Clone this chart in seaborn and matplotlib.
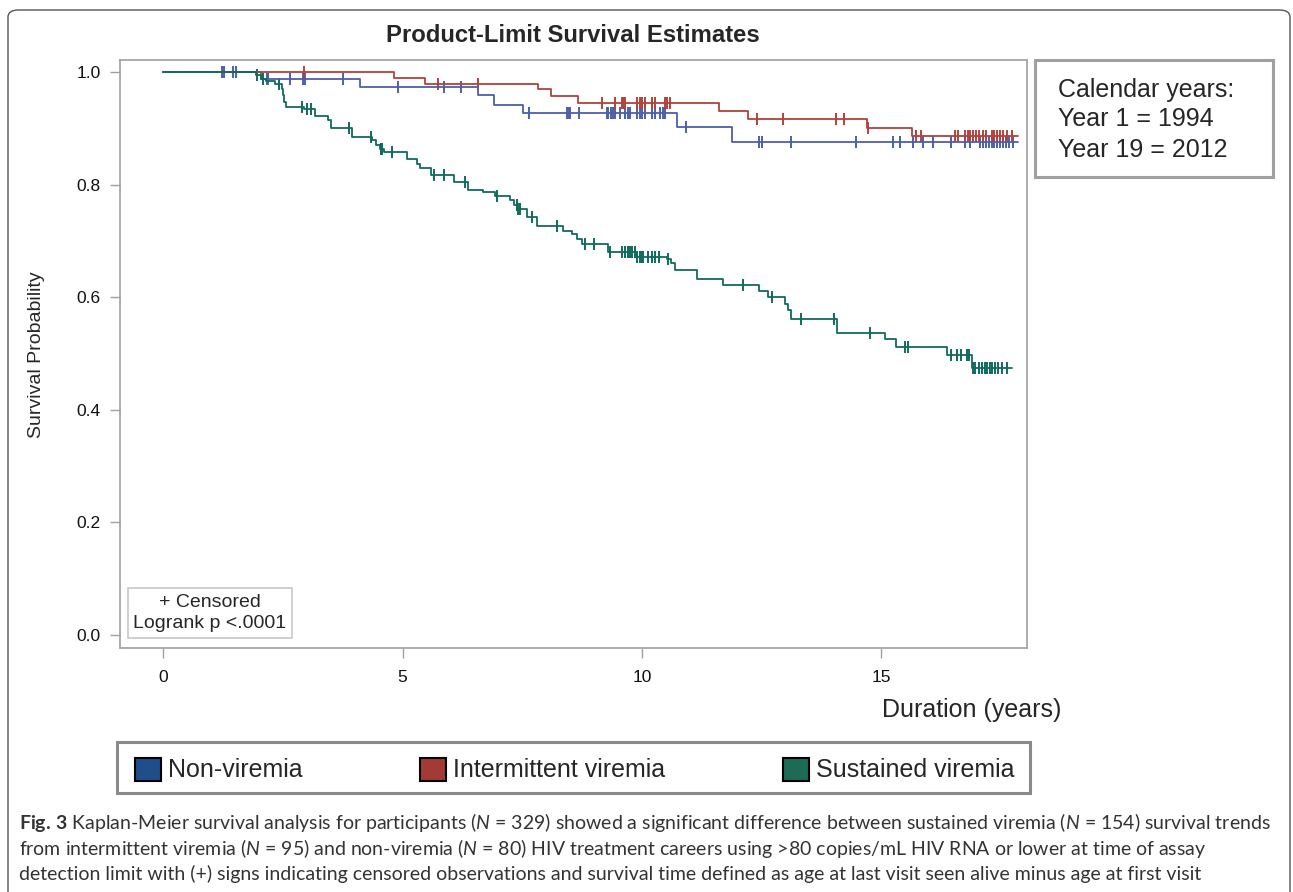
import numpy as np
import pandas as pd
import seaborn as sns
import matplotlib.pyplot as plt
from matplotlib.patches import Rectangle, FancyBboxPatch

# --- data ---
groups = ["Non-viremia", "Intermittent viremia", "Sustained viremia"]

non_t = [0, 2.05, 4.11, 6.57, 6.90, 7.51, 10.74, 11.89, 17.85]
non_s = [1.0, 0.988, 0.974, 0.959, 0.941, 0.928, 0.903, 0.876, 0.876]
non_cens = [1.22, 1.27, 1.45, 1.53, 2.16, 2.2, 2.64, 2.93, 2.96, 3.75, 4.9, 5.87, 6.22,
            7.65, 8.44, 8.47, 8.5, 8.69, 9.26, 9.3, 9.35, 9.4, 9.44, 9.55, 9.65, 9.7,
            9.75, 9.9, 9.95, 10.0, 10.06, 10.2, 10.27, 10.38, 10.43, 10.48, 10.92,
            12.45, 12.5, 13.12, 14.47, 15.25, 15.39, 15.65, 15.86, 16.07, 16.46,
            16.74, 16.85, 17.06, 17.12, 17.18, 17.24, 17.3, 17.36, 17.42, 17.48,
            17.54, 17.6, 17.66, 17.75]

int_t = [0, 4.83, 5.47, 7.82, 8.11, 8.67, 11.6, 12.22, 14.69, 15.63, 17.85]
int_s = [1.0, 0.989, 0.979, 0.970, 0.958, 0.945, 0.931, 0.917, 0.901, 0.887, 0.887]
int_cens = [2.95, 5.75, 6.57, 9.16, 9.44, 9.58, 9.61, 9.64, 9.9, 9.95, 10.0, 10.06,
            10.2, 10.27, 10.48, 10.53, 10.58, 12.41, 12.95, 14.06, 14.22, 14.73,
            15.73, 15.82, 16.53, 16.6, 16.74, 16.8, 16.86, 16.92, 16.98, 17.04,
            17.12, 17.18, 17.3, 17.36, 17.42, 17.48, 17.54, 17.63, 17.72]

sus_t = [0, 1.94, 2.05, 2.15, 2.33, 2.48, 2.51, 2.53, 2.56, 2.95, 3.17, 3.45, 3.50,
         3.94, 4.36, 4.45, 4.52, 4.62, 5.09, 5.30, 5.37, 5.60, 6.08, 6.37, 6.67,
         6.93, 7.24, 7.33, 7.40, 7.59, 7.80, 8.36, 8.53, 8.64, 8.74, 9.30, 9.87,
         10.53, 10.60, 10.69, 11.14, 11.70, 12.45, 12.64, 12.99, 13.05, 13.12,
         14.08, 15.07, 15.31, 16.36, 16.90, 17.72]
sus_s = [1.0, 0.994, 0.988, 0.984, 0.979, 0.970, 0.959, 0.947, 0.938, 0.934, 0.921,
         0.915, 0.900, 0.885, 0.879, 0.870, 0.864, 0.858, 0.845, 0.837, 0.830,
         0.817, 0.804, 0.790, 0.786, 0.779, 0.773, 0.764, 0.757, 0.743, 0.726,
         0.718, 0.712, 0.703, 0.695, 0.681, 0.672, 0.667, 0.660, 0.648, 0.633,
         0.622, 0.611, 0.600, 0.588, 0.577, 0.562, 0.536, 0.525, 0.511, 0.497,
         0.475, 0.475]
sus_cens = [1.96, 2.09, 2.42, 2.9, 3.0, 3.08, 3.89, 4.34, 4.54, 4.58, 4.77, 5.66,
            5.87, 6.3, 6.98, 7.38, 7.42, 7.45, 7.7, 8.22, 8.81, 9.0, 9.33, 9.58,
            9.65, 9.7, 9.75, 9.8, 9.85, 9.9, 9.95, 10.0, 10.03, 10.13, 10.2, 10.27,
            10.36, 10.55, 12.1, 12.71, 13.33, 14.01, 14.77, 15.49, 15.55, 16.46,
            16.57, 16.67, 16.78, 16.83, 16.92, 16.95, 17.04, 17.11, 17.16, 17.21,
            17.26, 17.31, 17.37, 17.44, 17.51, 17.63]

line_colors = ["#4c5fab", "#b2423a", "#0f6b5c"]
patch_colors = ["#1f4e8a", "#a33a36", "#1b6b55"]

caption = [
    r"$\mathbf{Fig.\,3}$ Kaplan-Meier survival analysis for participants ($\mathit{N}$ = 329) showed a significant difference between sustained viremia ($\mathit{N}$ = 154) survival trends",
    r"from intermittent viremia ($\mathit{N}$ = 95) and non-viremia ($\mathit{N}$ = 80) HIV treatment careers using >80 copies/mL HIV RNA or lower at time of assay",
    "detection limit with (+) signs indicating censored observations and survival time defined as age at last visit seen alive minus age at first visit",
]

# --- build tables ---
curves = []
marks = []
for g, t, s, c in zip(groups, [non_t, int_t, sus_t], [non_s, int_s, sus_s],
                      [non_cens, int_cens, sus_cens]):
    curves.append(pd.DataFrame({"time": t, "surv": s, "group": g}))
    t_arr, s_arr = np.array(t), np.array(s)
    idx = np.searchsorted(t_arr, c, side="right") - 1
    marks.append(pd.DataFrame({"time": c, "surv": s_arr[idx], "group": g}))
curves = pd.concat(curves, ignore_index=True)
marks = pd.concat(marks, ignore_index=True)

sns.set_style("white")
plt.rcParams["font.family"] = ["Liberation Sans", "DejaVu Sans"]
plt.rcParams["mathtext.fontset"] = "custom"
plt.rcParams["mathtext.rm"] = "Lato"
plt.rcParams["mathtext.it"] = "Lato:italic"
plt.rcParams["mathtext.bf"] = "Lato:bold"

W, H = 1293, 892
fig = plt.figure(figsize=(W / 100, H / 100), dpi=100)


def fx(px):
    return px / W


def fy(py):
    return 1 - py / H


ax = fig.add_axes([fx(120), fy(648), fx(1027) - fx(120), fy(60) - fy(648)])
pal = dict(zip(groups, line_colors))
sns.lineplot(data=curves, x="time", y="surv", hue="group", palette=pal,
             drawstyle="steps-post", estimator=None, sort=False, linewidth=1.3,
             legend=False, ax=ax)
for g in groups:
    sns.scatterplot(data=marks[marks.group == g], x="time", y="surv", color=pal[g],
                    marker="|", s=85, linewidth=1.4, legend=False, ax=ax)

ax.set_xlim(-0.9, 18.04)
ax.set_ylim(-0.0231, 1.0213)
ax.set_xticks([0, 5, 10, 15])
ax.set_yticks([0.0, 0.2, 0.4, 0.6, 0.8, 1.0])
ax.set_yticklabels(["0.0", "0.2", "0.4", "0.6", "0.8", "1.0"])
ax.tick_params(axis="both", length=7, width=1, color="#a0a0a0", labelsize=12.5,
               pad=7, bottom=True, left=True, labelcolor="#111111")
ax.tick_params(axis="x", pad=9)
for sp in ax.spines.values():
    sp.set_color("#a0a0a0")
    sp.set_linewidth(1.2)
ax.set_xlabel("")
ax.set_ylabel("")

# texts around the plot
fig.text(fx(573), fy(36), "Product-Limit Survival Estimates", ha="center",
         va="center", fontsize=17.2, fontweight="bold")
fig.text(fx(37), fy(355), "Survival Probability", rotation=90, ha="center",
         va="center", fontsize=14)
fig.text(fx(972), fy(710), "Duration (years)", ha="center", va="center", fontsize=18)
fig.text(fx(210), fy(613), "+ Censored\nLogrank p <.0001", ha="center", va="center",
         fontsize=14, linespacing=1.3,
         bbox=dict(boxstyle="square,pad=0.3", fc="white", ec="#c8c8c8", lw=1.2))

# calendar box
fig.add_artist(Rectangle((fx(1035), fy(177)), fx(1273) - fx(1035), fy(60) - fy(177),
                         transform=fig.transFigure, fill=False, ec="#a0a0a0", lw=2.2))
for yy, s in zip([90, 119, 150], ["Calendar years:", "Year 1 = 1994", "Year 19 = 2012"]):
    fig.text(fx(1058), fy(yy), s, ha="left", va="center", fontsize=18)

# legend box
fig.add_artist(Rectangle((fx(117), fy(793)), fx(1030) - fx(117), fy(742) - fy(793),
                         transform=fig.transFigure, fill=False, ec="#8a8a8a", lw=2.2))
for px, lab, col in zip([135, 420, 783], groups, patch_colors):
    fig.add_artist(Rectangle((fx(px), fy(781)), fx(px + 26) - fx(px), fy(758) - fy(781),
                             transform=fig.transFigure, fc=col, ec="black", lw=1.5))
    fig.text(fx(px + 33), fy(770), lab, ha="left", va="center", fontsize=18)

# caption
for yy, s in zip([823, 848, 874], caption):
    fig.text(fx(19), fy(yy), s, ha="left", va="center", fontsize=14,
             family="Lato", color="#333333")

# outer frame
fig.add_artist(FancyBboxPatch((fx(8), fy(905)), fx(1290) - fx(8), fy(10) - fy(905),
                              boxstyle="round,pad=0,rounding_size=0.008",
                              transform=fig.transFigure, fill=False, ec="#555555", lw=1))

fig.savefig("out.png", dpi=100)
